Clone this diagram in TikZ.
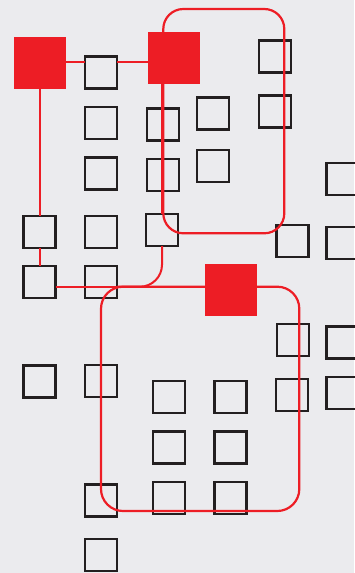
\documentclass[tikz,border=0pt]{standalone}
\definecolor{bg}{RGB}{235,235,238}
\definecolor{rd}{RGB}{237,29,37}
\definecolor{bk}{RGB}{35,31,32}
\begin{document}
\begin{tikzpicture}[x=1pt,y=-1pt,
  box/.style={draw=bk,line width=2.7pt,minimum size=32pt,inner sep=0pt,outer sep=0pt},
  hub/.style={fill=rd,minimum size=52pt,inner sep=0pt,outer sep=0pt},
  link/.style={draw=rd,line width=2pt},
  group/.style={draw=rd,line width=2.2pt}]
\fill[bg] (0,0) rectangle (354,573);
\useasboundingbox (0,0) rectangle (354,573);

% outline squares
\node[box] (a1) at (39.5,232) {};
\node[box] (a2) at (39.5,282) {};
\node[box] (a3) at (39.5,381.5) {};
\node[box] (b1) at (101,72.5) {};
\node[box] (b2) at (101,123) {};
\node[box] (b3) at (101,173.5) {};
\node[box] (b4) at (101,232) {};
\node[box] (b5) at (101,282) {};
\node[box] (b6) at (101,381) {};
\node[box] (b7) at (101,500.7) {};
\node[box] (b8) at (101,555) {};
\node[box] (c1) at (163,124.5) {};
\node[box] (c2) at (163,175) {};
\node[box] (c3) at (162,230) {};
\node[box] (d1) at (213,113.5) {};
\node[box] (d2) at (213,166) {};
\node[box] (e1) at (275,56.7) {};
\node[box] (e2) at (275,111.7) {};
\node[box] (f1) at (292.5,241) {};
\node[box] (f2) at (293,340) {};
\node[box] (f3) at (292,395) {};
\node[box] (g1) at (342.8,179) {};
\node[box] (g2) at (342.8,243) {};
\node[box] (g3) at (342.8,342.7) {};
\node[box] (g4) at (342.8,393) {};
\node[box] (k1) at (169,397) {};
\node[box] (k2) at (230.7,397) {};
\node[box] (k3) at (169,447.5) {};
\node[box] (k4) at (230.7,447.5) {};
\node[box] (k5) at (169,498) {};
\node[box] (k6) at (230.7,498) {};

% groups
\draw[group,rounded corners=20pt] (163.3,9) rectangle (284.3,233.3);
\draw[group,rounded corners=22pt] (101,286.7) rectangle (299.3,511);

% hubs
\node[hub] (r1) at (39.5,63) {};
\node[hub] (r2) at (173.5,57.5) {};
\node[hub] (r3) at (230.5,289.5) {};
\coordinate (h) at (0,286.7);
\coordinate (t) at (0,62);

% links
\draw[link] (r1.east |- t) -- (b1.west |- t);
\draw[link] (b1.east |- t) -- (r2.west |- t);
\draw[link] (r1.south) -- (a1.north);
\draw[link] (a1.south) -- (a2.north);
\draw[link] (c3.north -| 162.3,0) -- (r2.south -| 162.3,0);
\draw[link] (a2.east |- h) -- (r3.west |- h);
\draw[link,rounded corners=22pt] (c3.south) |- (b5.east |- h);

% hubs on top
\node[hub] at (r1) {};
\node[hub] at (r2) {};
\node[hub] at (r3) {};
\end{tikzpicture}
\end{document}
